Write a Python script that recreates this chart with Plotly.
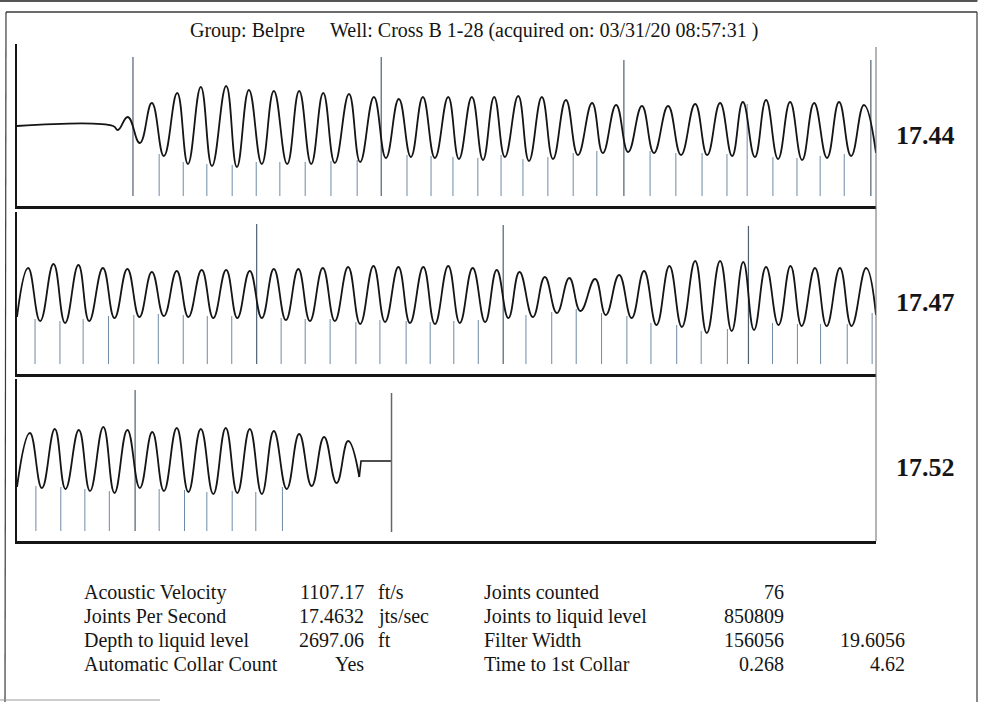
import plotly.graph_objects as go

# ---------------- data ----------------
title_group = "Group: Belpre"
title_well = "Well: Cross B 1-28 (acquired on: 03/31/20 08:57:31 )"

panel_start_s = [0.0, 2.0, 4.0]          # each strip shows 2 s of the record
panel_span_s = 2.0
panel_rate_labels = ["17.44", "17.47", "17.52"]

# panel 1 : acoustic trace extrema (time s, amplitude)
p1_t = [0.000, 0.224, 0.235, 0.258, 0.286, 0.314, 0.342, 0.373, 0.398, 0.428,
        0.454, 0.487, 0.512, 0.540, 0.570, 0.598, 0.629, 0.657, 0.685, 0.713,
        0.740, 0.773, 0.799, 0.831, 0.859, 0.889, 0.917, 0.945, 0.973, 1.004,
        1.029, 1.059, 1.085, 1.111, 1.136, 1.167, 1.192, 1.222, 1.248, 1.278,
        1.306, 1.339, 1.364, 1.395, 1.423, 1.455, 1.483, 1.516, 1.546, 1.579,
        1.607, 1.637, 1.665, 1.690, 1.718, 1.744, 1.772, 1.800, 1.828, 1.856,
        1.886, 1.914, 1.942, 1.972, 2.000]
p1_amp = [0, 0, -4, 9, -17, 23, -30, 33, -38, 39,
          -40, 40, -41, 36, -38, 35, -38, 35, -38, 33,
          -37, 32, -36, 29, -32, 27, -31, 29, -32, 29,
          -33, 29, -34, 29, -31, 30, -35, 29, -33, 26,
          -29, 23, -27, 21, -26, 20, -27, 20, -29, 22,
          -29, 23, -30, 24, -31, 26, -33, 24, -34, 23,
          -32, 24, -30, 21, -27]
p1_collar_t = [0.331, 0.387, 0.442, 0.501, 0.557, 0.612, 0.671, 0.731, 0.792,
               0.908, 0.964, 1.015, 1.073, 1.127, 1.178, 1.236, 1.295, 1.350,
               1.474, 1.534, 1.595, 1.653, 1.700, 1.760, 1.816, 1.870, 1.926]
p1_collar_top = [-28, -36, -38, -39, -36, -36, -36, -35, -34,
                 -29, -30, -31, -32, -29, -33, -31, -27, -25,
                 -25, -27, -27, -28, 22, -31, -32, -30, -28]
p1_tenth_t = [0.270, 0.848, 1.413, 1.988]
p1_tenth_top = [69, 69, 66, 66]

# panel 2
p2_t = [2.000, 2.026, 2.054, 2.085, 2.112, 2.143, 2.168, 2.200, 2.227, 2.257,
        2.285, 2.314, 2.342, 2.372, 2.399, 2.430, 2.457, 2.487, 2.513, 2.542,
        2.570, 2.598, 2.626, 2.655, 2.682, 2.712, 2.740, 2.771, 2.799, 2.830,
        2.857, 2.888, 2.915, 2.946, 2.973, 3.004, 3.031, 3.061, 3.090, 3.117,
        3.144, 3.170, 3.201, 3.229, 3.257, 3.286, 3.312, 3.346, 3.371, 3.402,
        3.431, 3.460, 3.489, 3.519, 3.548, 3.579, 3.606, 3.637, 3.664, 3.691,
        3.716, 3.744, 3.773, 3.801, 3.827, 3.858, 3.885, 3.916, 3.943, 3.977,
        4.000]
p2_amp = [-23, 26, -27, 30, -29, 29, -27, 26, -24, 25,
          -23, 22, -22, 23, -23, 24, -24, 24, -24, 23,
          -24, 25, -26, 25, -27, 26, -27, 27, -30, 28,
          -28, 27, -29, 27, -30, 28, -29, 26, -28, 24,
          -24, 22, -23, 17, -19, 16, -17, 15, -21, 19,
          -24, 23, -31, 28, -33, 33, -39, 33, -37, 32,
          -36, 27, -31, 28, -32, 26, -32, 26, -32, 26,
          -21]
p2_collar_t = [2.042, 2.100, 2.154, 2.213, 2.272, 2.329, 2.387, 2.443, 2.500,
               2.615, 2.671, 2.729, 2.789, 2.845, 2.906, 2.962, 3.017, 3.074,
               3.185, 3.245, 3.302, 3.361, 3.420, 3.476, 3.536, 3.593, 3.654,
               3.759, 3.817, 3.871, 3.933, 3.991]
p2_collar_top = [-25, -27, -25, -22, -21, -20, -21, -22, -22,
                 -24, -25, -25, -28, -26, -27, -28, -27, -26,
                 -21, -18, -15, -19, -22, -29, -31, -37, -35,
                 -29, -30, -30, -30, -19]
p2_tenth_t = [2.558, 3.132, 3.703]
p2_tenth_top = [70, 69, 68]

# panel 3
p3_t = [4.000, 4.030, 4.058, 4.088, 4.113, 4.144, 4.170, 4.201, 4.227, 4.257,
        4.286, 4.315, 4.342, 4.372, 4.399, 4.428, 4.457, 4.486, 4.513, 4.542,
        4.570, 4.598, 4.628, 4.657, 4.686, 4.715, 4.744, 4.771, 4.797]
p3_amp = [-26, 28, -27, 32, -28, 31, -30, 34, -32, 31,
          -27, 29, -30, 33, -31, 32, -33, 33, -32, 32,
          -33, 30, -28, 27, -25, 24, -22, 20, -16]
p3_collar_t = [4.044, 4.102, 4.158, 4.215, 4.331, 4.390, 4.442, 4.501, 4.556, 4.618]
p3_collar_top = [-25, -26, -28, -30, -28, -29, -31, -30, -31, -26]
p3_tenth_t = [4.275]
p3_tenth_top = [71]

# text block
acoustic_velocity = 1107.17
depth_to_liquid = 2697.06
liquid_level_t = 2 * depth_to_liquid / acoustic_velocity   # two-way travel time
p3_tail_t = [4.797, 4.801, liquid_level_t]
p3_tail_amp = [-16, 0, 0]
liquid_marker_amp = [-71, 68]

left_labels = ["Acoustic Velocity", "Joints Per Second", "Depth to liquid level", "Automatic Collar Count"]
left_values = ["1107.17", "17.4632", "2697.06", "Yes"]
left_units = ["ft/s", "jts/sec", "ft", ""]
right_labels = ["Joints counted", "Joints to liquid level", "Filter Width", "Time to 1st Collar"]
right_values = ["76", "850809", "156056", "0.268"]
right_extra = ["", "", "19.6056", "4.62"]

# ---------------- layout helpers ----------------
W, H = 983, 702
def px(x):
    return x / W
def py(y):
    return 1 - y / H

X_LEFT, X_RIGHT = 17, 876
PANEL_TOP = [44, 212, 379]
PANEL_H = 162
Y_RANGE = [-80, 82]
COLLAR_BASE = -70

SERIF = "Liberation Serif, Times New Roman, serif"
INK = "#151515"

fig = go.Figure()

def segs(ts, tops, base):
    xs, ys = [], []
    for t, top in zip(ts, tops):
        xs += [t, t, None]
        ys += [base, top, None]
    return xs, ys

panels = [
    (p1_t, p1_amp, p1_collar_t, p1_collar_top, p1_tenth_t, p1_tenth_top),
    (p2_t, p2_amp, p2_collar_t, p2_collar_top, p2_tenth_t, p2_tenth_top),
    (p3_t, p3_amp, p3_collar_t, p3_collar_top, p3_tenth_t, p3_tenth_top),
]

for i, (tt, aa, ct, ctop, tt10, ttop10) in enumerate(panels):
    n = "" if i == 0 else str(i + 1)
    xa, ya = "x" + n, "y" + n
    cx, cy = segs(ct, ctop, COLLAR_BASE)
    fig.add_trace(go.Scatter(x=cx, y=cy, mode="lines", xaxis=xa, yaxis=ya,
                             line=dict(color="#6f8ba6", width=1), hoverinfo="skip"))
    tx, ty = segs(tt10, ttop10, COLLAR_BASE)
    fig.add_trace(go.Scatter(x=tx, y=ty, mode="lines", xaxis=xa, yaxis=ya,
                             line=dict(color="#4e6072", width=1.2), hoverinfo="skip"))
    fig.add_trace(go.Scatter(x=tt, y=aa, mode="lines", xaxis=xa, yaxis=ya,
                             line=dict(color=INK, width=1.8, shape="spline", smoothing=1.3),
                             hoverinfo="skip"))

# end of trace and liquid level marker in panel 3
fig.add_trace(go.Scatter(x=p3_tail_t, y=p3_tail_amp, mode="lines", xaxis="x3", yaxis="y3",
                         line=dict(color=INK, width=1.6), hoverinfo="skip"))
fig.add_trace(go.Scatter(x=[liquid_level_t, liquid_level_t], y=liquid_marker_amp, mode="lines",
                         xaxis="x3", yaxis="y3", line=dict(color="#666666", width=1.5),
                         hoverinfo="skip"))

layout = dict(width=W, height=H, margin=dict(l=0, r=0, t=0, b=0),
              paper_bgcolor="white", plot_bgcolor="white", showlegend=False)

for i in range(3):
    n = "" if i == 0 else str(i + 1)
    top = PANEL_TOP[i]
    layout["xaxis" + n] = dict(domain=[px(X_LEFT), px(X_RIGHT)],
                               range=[panel_start_s[i], panel_start_s[i] + panel_span_s],
                               anchor="y" + n, showgrid=False, zeroline=False,
                               showticklabels=False, ticks="", showline=True,
                               linecolor=INK, linewidth=3, fixedrange=True)
    layout["yaxis" + n] = dict(domain=[py(top + PANEL_H), py(top)], range=Y_RANGE,
                               anchor="x" + n, showgrid=False, zeroline=False,
                               showticklabels=False, ticks="", showline=True,
                               linecolor=INK, linewidth=2, fixedrange=True)

shapes = []
def pline(x0, y0, x1, y1, color="#333333", width=1.2):
    shapes.append(dict(type="line", xref="paper", yref="paper",
                       x0=px(x0), y0=py(y0), x1=px(x1), y1=py(y1),
                       line=dict(color=color, width=width)))

pline(X_RIGHT, 47, X_RIGHT, 541, "#6a6a6a", 1)      # right edge of strips
pline(6, 12, 977, 12, "#3a3a3a", 1.5)               # outer box
pline(6, 12, 5, 702, "#3a3a3a", 1.2)
pline(977, 12, 977, 702, "#3a3a3a", 1.2)
pline(0, 1, 977, 1, "#555555", 2)                   # edge of box above
pline(977, 0, 977, 1.5, "#555555", 1.2)
pline(0, 700, 160, 700, "#9a9a9a", 1)
layout["shapes"] = shapes

ann = []
def text(x, y, s, size=20, xanchor="left", bold=False):
    ann.append(dict(xref="paper", yref="paper", x=px(x), y=py(y), text=("<b>%s</b>" % s) if bold else s,
                    showarrow=False, xanchor=xanchor, yanchor="middle",
                    font=dict(family=SERIF, size=size, color=INK)))

text(188, 31, title_group)
text(328, 31, title_well)

label_y = [135, 302, 467]
for lab, yy in zip(panel_rate_labels, label_y):
    text(925, yy, lab, size=26, xanchor="center", bold=True)

row_y = [592, 616, 640, 664]
for k in range(4):
    text(82, row_y[k], left_labels[k])
    text(366, row_y[k], left_values[k], xanchor="right")
    if left_units[k]:
        text(376, row_y[k], left_units[k])
    text(482, row_y[k], right_labels[k])
    text(786, row_y[k], right_values[k], xanchor="right")
    if right_extra[k]:
        text(907, row_y[k], right_extra[k], xanchor="right")
layout["annotations"] = ann

fig.update_layout(**layout)
fig.write_html("out.html", config={"displayModeBar": False},
               post_script="document.body.style.margin='0';document.body.style.overflow='hidden';")
